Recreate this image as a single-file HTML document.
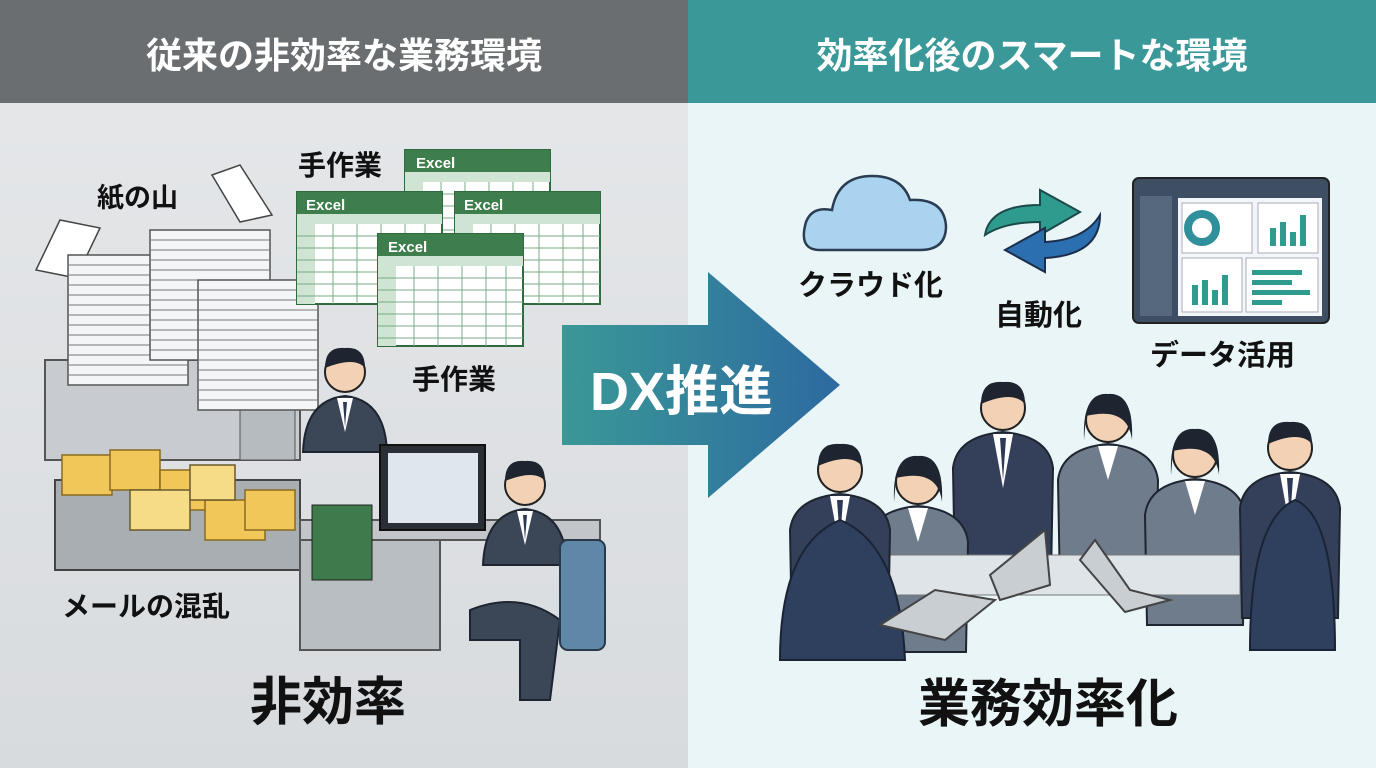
<!DOCTYPE html>
<html><head><meta charset="utf-8"><style>
html,body{margin:0;padding:0;width:1376px;height:768px;overflow:hidden;font-family:"Liberation Sans","Noto Sans CJK JP",sans-serif}
svg{display:block}
text{font-family:"Liberation Sans","Noto Sans CJK JP",sans-serif;font-weight:700}
</style></head><body>
<svg width="1376" height="768" viewBox="0 0 1376 768" xmlns="http://www.w3.org/2000/svg">
<defs>
<linearGradient id="ar" x1="0" x2="1"><stop offset="0" stop-color="#3a9896"/><stop offset="1" stop-color="#2d6aa0"/></linearGradient>
<linearGradient id="lb" x1="0" y1="0" x2="0" y2="1"><stop offset="0" stop-color="#e6e8ea"/><stop offset="1" stop-color="#d8dbde"/></linearGradient>
<g id="sheet"><rect width="145" height="112" fill="#fff" stroke="#2f6b3f" stroke-width="2"/><rect width="145" height="22" fill="#3d7e4c"/><rect y="22" width="145" height="10" fill="#cfe4d3"/><rect y="32" width="18" height="80" fill="#cfe4d3"/>
<path d="M0 44H145M0 56H145M0 68H145M0 80H145M0 92H145M0 104H145M36 32V112M60 32V112M84 32V112M108 32V112M128 32V112" stroke="#7aa886" stroke-width="1"/></g>
<g id="stack"><rect width="120" height="130" fill="#f4f5f6" stroke="#555" stroke-width="1.5"/><path d="M0 10H120M0 20H120M0 30H120M0 40H120M0 50H120M0 60H120M0 70H120M0 80H120M0 90H120M0 100H120M0 110H120M0 120H120" stroke="#777"/></g>
<g id="person"><circle cx="0" cy="0" r="20" fill="#f3d1b5" stroke="#222" stroke-width="2"/><path d="M-20 -4 Q-20 -26 0 -24 Q20 -26 20 -4 Q10 -16 -20 -4Z" fill="#1e2530"/><path d="M-42 80 Q-40 28 0 24 Q40 28 42 80Z" fill="#3b4656" stroke="#1e2530" stroke-width="2"/><path d="M-8 26 L0 60 L8 26Z" fill="#fff"/><path d="M-2 30 L0 55 L2 30Z" fill="#2d3a55"/></g>
<g id="pbig"><path d="M-48 170 L-50 60 Q-46 28 0 24 Q46 28 50 60 L48 170Z" fill="#34405a" stroke="#1e2530" stroke-width="2"/><path d="M-10 26 L0 80 L10 26Z" fill="#fff"/><path d="M-3 30 L0 72 L3 30Z" fill="#2d3a55"/><circle cx="0" cy="0" r="22" fill="#f3d1b5" stroke="#222" stroke-width="2"/><path d="M-22 -4 Q-22 -28 0 -26 Q22 -28 22 -4 Q10 -18 -22 -4Z" fill="#1e2530"/></g>
<g id="pbigg"><path d="M-48 170 L-50 60 Q-46 28 0 24 Q46 28 50 60 L48 170Z" fill="#6f7c8c" stroke="#1e2530" stroke-width="2"/><path d="M-10 26 L0 60 L10 26Z" fill="#fff"/><circle cx="0" cy="0" r="22" fill="#f3d1b5" stroke="#222" stroke-width="2"/><path d="M-24 20 Q-26 -28 0 -26 Q26 -28 24 20 Q20 -14 -22 -4Z" fill="#1e2530"/></g>
</defs>
<rect x="0" y="0" width="688" height="768" fill="url(#lb)"/>
<rect x="688" y="0" width="688" height="768" fill="#eaf5f8"/>
<rect x="0" y="0" width="688" height="103" fill="#6b6e71"/>
<rect x="688" y="0" width="688" height="103" fill="#3b9898"/>
<text x="344" y="68" font-size="36" fill="#fff" text-anchor="middle">従来の非効率な業務環境</text>
<text x="1032" y="68" font-size="36" fill="#fff" text-anchor="middle">効率化後のスマートな環境</text>

<path d="M36 270 L60 220 L100 228 L76 278Z" fill="#fff" stroke="#444" stroke-width="1.5"/>
<path d="M212 175 L240 165 L272 215 L240 222Z" fill="#fff" stroke="#444" stroke-width="1.5"/>
<rect x="45" y="360" width="255" height="100" fill="#c8ccd0" stroke="#555" stroke-width="2"/>
<rect x="240" y="380" width="55" height="80" fill="#b6bbc0" stroke="#555"/>
<use href="#stack" x="68" y="255"/>
<use href="#stack" x="150" y="230"/>
<use href="#stack" x="198" y="280"/>
<rect x="55" y="480" width="245" height="90" fill="#a9aeb3" stroke="#444" stroke-width="2"/>
<g fill="#f2c75a" stroke="#8a6a1c" stroke-width="1.5">
<rect x="62" y="455" width="50" height="40"/><rect x="110" y="450" width="50" height="40"/><rect x="160" y="470" width="50" height="40"/><rect x="205" y="500" width="60" height="40"/><rect x="245" y="490" width="50" height="40"/></g>
<g fill="#f6dc86" stroke="#6a5a2a" stroke-width="1.5"><rect x="130" y="490" width="60" height="40"/><rect x="190" y="465" width="45" height="35"/></g>
<text x="62" y="616" font-size="28" fill="#111">メールの混乱</text>
<text x="97" y="207" font-size="27" fill="#111">紙の山</text>
<use href="#sheet" x="405" y="150"/>
<use href="#sheet" x="297" y="192"/>
<use href="#sheet" x="455" y="192"/>
<use href="#sheet" x="378" y="234"/>
<g font-size="15" fill="#fff"><text x="416" y="168">Excel</text><text x="306" y="210">Excel</text><text x="464" y="210">Excel</text><text x="388" y="252">Excel</text></g>
<text x="298" y="175" font-size="28" fill="#111">手作業</text>
<text x="412" y="389" font-size="28" fill="#111">手作業</text>
<use href="#person" x="345" y="372"/>
<rect x="300" y="520" width="300" height="20" fill="#c2c6ca" stroke="#555" stroke-width="2"/>
<rect x="300" y="540" width="140" height="110" fill="#b9bec3" stroke="#555" stroke-width="2"/>
<rect x="380" y="445" width="105" height="85" fill="#2a2f36" stroke="#111" stroke-width="2"/>
<rect x="388" y="453" width="90" height="70" fill="#dfe7ec"/>
<rect x="312" y="505" width="60" height="75" fill="#3e7a4b" stroke="#222"/>
<use href="#person" x="525" y="485"/>
<path d="M470 610 Q520 590 560 620 L550 700 L520 700 L520 640 L470 640Z" fill="#3b4656" stroke="#1e2530" stroke-width="2"/>
<rect x="560" y="540" width="45" height="110" rx="8" fill="#5e87a8" stroke="#2a3a4a" stroke-width="2"/>
<text x="250" y="720" font-size="52" fill="#111">非効率</text>

<path d="M562 325 H708 V272 L840 385 L708 498 V445 H562Z" fill="url(#ar)"/>
<text x="590" y="410" font-size="54" fill="#fff">DX推進</text>

<path d="M820 250 Q798 250 806 222 Q812 206 832 210 Q838 176 872 176 Q902 176 910 200 Q944 198 946 226 Q946 250 920 250Z" fill="#a9d3ef" stroke="#2b3d52" stroke-width="2.5"/>
<text x="798" y="295" font-size="29" fill="#111">クラウド化</text>
<path d="M985 235 Q990 205 1040 205 L1040 190 L1080 212 L1040 235 L1040 222 Q1005 222 985 235Z" fill="#2f9b8e" stroke="#1c4a4a" stroke-width="2"/>
<path d="M1100 215 Q1100 255 1045 258 L1045 272 L1005 250 L1045 228 L1045 242 Q1085 240 1100 215Z" fill="#2c6fb0" stroke="#1c2f4a" stroke-width="2"/>
<text x="995" y="325" font-size="29" fill="#111">自動化</text>
<rect x="1133" y="178" width="196" height="145" rx="6" fill="#3e4f63" stroke="#222" stroke-width="2"/>
<rect x="1140" y="196" width="32" height="120" fill="#55687e"/>
<rect x="1178" y="198" width="144" height="118" fill="#f3f6f8"/>
<rect x="1182" y="203" width="70" height="50" fill="#fff" stroke="#aab"/>
<circle cx="1202" cy="228" r="14" fill="none" stroke="#2f8f9a" stroke-width="8"/>
<rect x="1258" y="203" width="60" height="50" fill="#fff" stroke="#aab"/>
<rect x="1182" y="258" width="60" height="54" fill="#fff" stroke="#aab"/>
<rect x="1246" y="258" width="72" height="54" fill="#fff" stroke="#aab"/>
<g fill="#2f9b8e"><rect x="1270" y="228" width="6" height="18"/><rect x="1280" y="222" width="6" height="24"/><rect x="1290" y="232" width="6" height="14"/><rect x="1300" y="215" width="6" height="31"/>
<rect x="1192" y="285" width="6" height="20"/><rect x="1202" y="280" width="6" height="25"/><rect x="1212" y="290" width="6" height="15"/><rect x="1222" y="275" width="6" height="30"/>
<rect x="1252" y="270" width="50" height="5"/><rect x="1252" y="280" width="40" height="5"/><rect x="1252" y="290" width="58" height="5"/><rect x="1252" y="300" width="30" height="5"/></g>
<text x="1150" y="365" font-size="29" fill="#111">データ活用</text>

<use href="#pbig" x="1003" y="408"/>
<use href="#pbigg" x="1108" y="420"/>
<use href="#pbigg" x="918" y="482"/>
<use href="#pbigg" x="1195" y="455"/>
<rect x="880" y="555" width="360" height="40" fill="#dfe4e8" stroke="#777"/>
<use href="#pbig" x="840" y="470" transform="translate(0,0)"/>
<path d="M780 660 Q780 545 840 520 Q900 545 905 660Z" fill="#2f3f5e" stroke="#1a2333" stroke-width="2"/>
<use href="#pbig" x="1290" y="448"/>
<path d="M1250 650 Q1250 520 1295 500 Q1335 515 1335 650Z" fill="#2f3f5e" stroke="#1a2333" stroke-width="2"/>
<path d="M880 625 L935 590 L995 600 L945 640Z" fill="#c9ced3" stroke="#444" stroke-width="2"/>
<path d="M1080 560 L1095 540 L1130 590 L1170 600 L1125 612Z" fill="#c9ced3" stroke="#444" stroke-width="2"/>
<path d="M990 575 L1045 530 L1050 585 L1000 600Z" fill="#c9ced3" stroke="#444" stroke-width="2"/>
<text x="918" y="722" font-size="52" fill="#111">業務効率化</text>
</svg>
</body></html>
